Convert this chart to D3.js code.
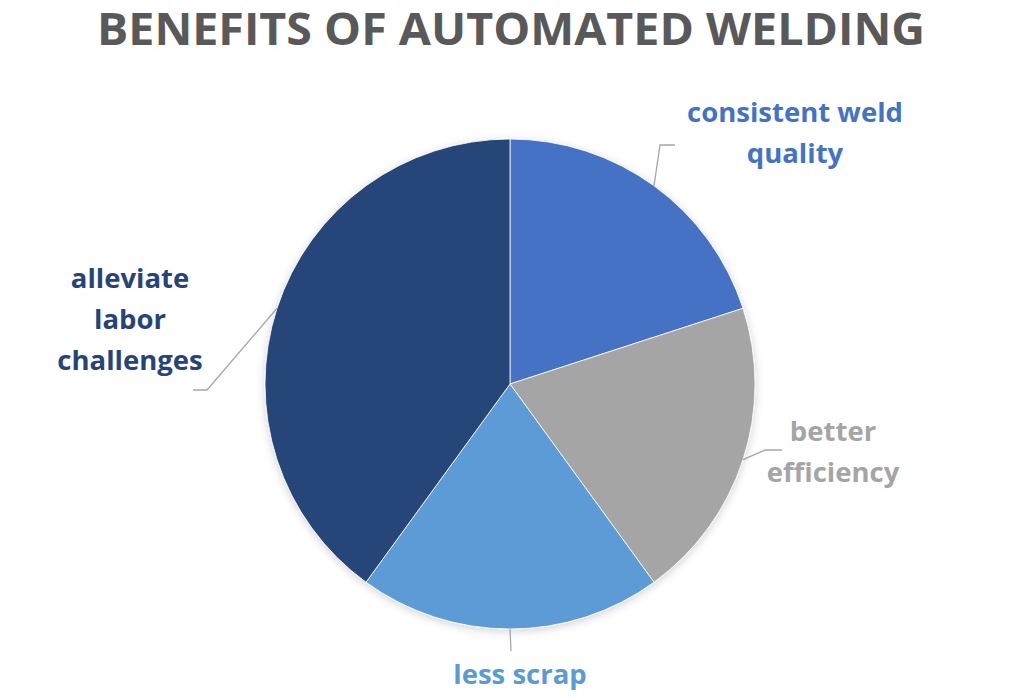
<!DOCTYPE html>
<meta charset="utf-8">
<html>
<head>
  <style>
    body { margin: 0; background: #fff; }
    .title { font-family: "Open Sans", sans-serif; font-weight: bold; fill: #595959; }
    .lbl { font-family: "Open Sans", sans-serif; font-weight: bold; font-size: 27.5px; }
  </style>
  <script src="https://d3js.org/d3.v7.min.js"></script>
</head>
<body>
<svg width="1024" height="699"></svg>
<script>
  // data
  var categories = ["consistent weld quality", "better efficiency", "less scrap", "alleviate labor challenges"];
  var values = [20, 20, 20, 40];
  var colors = ["#4472C4", "#A5A5A5", "#5B9BD5", "#264478"];
  var labelLines = [["consistent weld", "quality"], ["better", "efficiency"], ["less scrap"], ["alleviate", "labor", "challenges"]];

  var svg = d3.select("svg"),
      cx = 510, cy = 384, radius = 245;

  svg.append("text")
     .attr("class", "title")
     .attr("x", 511)
     .attr("y", 45)
     .attr("text-anchor", "middle")
     .attr("font-size", "45px")
     .attr("textLength", 828)
     .attr("lengthAdjust", "spacingAndGlyphs")
     .text("BENEFITS OF AUTOMATED WELDING");

  var defs = svg.append("defs");
  var f = defs.append("filter").attr("id", "shadow").attr("x", "-10%").attr("y", "-10%").attr("width", "120%").attr("height", "120%");
  f.append("feDropShadow").attr("dx", 0).attr("dy", 2).attr("stdDeviation", 4).attr("flood-color", "#000").attr("flood-opacity", 0.18);

  var pie = d3.pie().sort(null).value(function(d) { return d; });
  var arc = d3.arc().innerRadius(0).outerRadius(radius);
  var arcs = pie(values);

  var g = svg.append("g").attr("transform", "translate(" + cx + "," + cy + ")");

  g.append("g").attr("filter", "url(#shadow)")
   .selectAll("path")
   .data(arcs)
   .enter().append("path")
   .attr("d", arc)
   .attr("fill", function(d, i) { return colors[i]; })
   .attr("stroke", "#fff")
   .attr("stroke-width", 0.8);

  // leader lines and labels, placed relative to slice mid angle
  var labelPos = [
    { bend: [150, -239], end: [165, -239], tx: 285, ty: -262 },
    { bend: [255, 66], end: [272, 66], tx: 323, ty: 57 },
    { bend: [1, 267], end: [1, 267], tx: 10, ty: 300 },
    { bend: [-303, 6], end: [-317, 6], tx: -380, ty: -96 }
  ];
  var lineH = 41;

  arcs.forEach(function(d, i) {
    var a = (d.startAngle + d.endAngle) / 2;
    var p0 = [Math.sin(a) * radius, -Math.cos(a) * radius];
    var lp = labelPos[i];
    g.append("polyline")
     .attr("points", [p0, lp.bend, lp.end].map(function(p) { return p.join(","); }).join(" "))
     .attr("fill", "none")
     .attr("stroke", "#A6A6A6")
     .attr("stroke-width", 1.3);

    var t = g.append("text")
     .attr("class", "lbl")
     .attr("text-anchor", "middle")
     .attr("fill", colors[i]);
    labelLines[i].forEach(function(s, k) {
      t.append("tspan")
       .attr("x", lp.tx)
       .attr("y", lp.ty + k * lineH)
       .text(s);
    });
  });
</script>
</body>
</html>
